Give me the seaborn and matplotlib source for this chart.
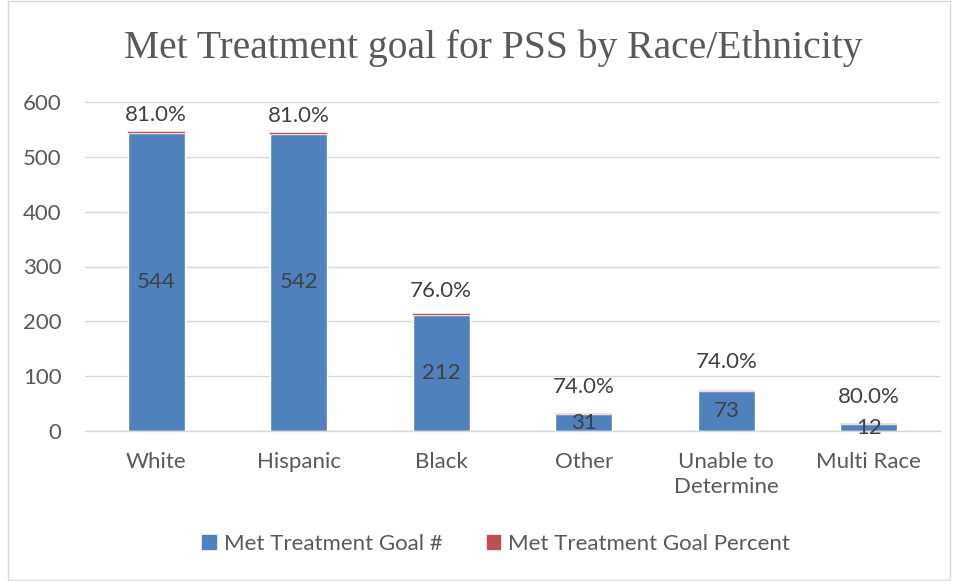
import matplotlib
matplotlib.use("Agg")
import matplotlib.pyplot as plt
from matplotlib.patches import Rectangle
import seaborn as sns
import pandas as pd

categories = ["White", "Hispanic", "Black", "Other", "Unable to\nDetermine", "Multi Race"]
met_goal_count = [544, 542, 212, 31, 73, 12]
met_goal_percent = [0.81, 0.81, 0.76, 0.74, 0.74, 0.80]

df = pd.DataFrame({
    "category": categories,
    "count": met_goal_count,
    "percent": met_goal_percent,
})

sns.set_theme(style="white")
plt.rcParams["font.family"] = ["Lato", "DejaVu Sans"]

BLUE = "#4F81BD"
RED = "#C0504D"
TEXT = "#595959"
LABEL = "#404040"
FS = 16

# gap (in pixels) between each bar top and the centre of its percent label
pct_label_gap = [17, 17, 23, 27, 29, 27]

fig = plt.figure(figsize=(9.58, 5.81), dpi=100)
ax = fig.add_axes([85 / 958, 1 - 431 / 581, 855 / 958, 329 / 581])

sns.barplot(data=df, x="category", y="count", color=BLUE, width=0.4,
            saturation=1, ax=ax)
sns.barplot(data=df, x="category", y="percent", color=RED, width=0.4,
            saturation=1, ax=ax, bottom=df["count"],
            edgecolor=RED, linewidth=0.3)

ax.set_ylim(0, 600)
ax.set_xlim(-0.5, len(categories) - 0.5)
ax.set_yticks(range(0, 601, 100))
ax.yaxis.grid(True, color="#D9D9D9", linewidth=1)
ax.set_axisbelow(True)
for side in ["top", "right", "left"]:
    ax.spines[side].set_visible(False)
ax.spines["bottom"].set_color("#D9D9D9")
ax.spines["bottom"].set_linewidth(1)
ax.set_xlabel("")
ax.set_ylabel("")
ax.tick_params(axis="y", length=0, pad=17, labelsize=FS, labelcolor=TEXT)
ax.tick_params(axis="x", length=0, pad=15, labelsize=FS, labelcolor=TEXT)
for lbl in ax.get_xticklabels():
    lbl.set_linespacing(1.3)

for i, (c, p) in enumerate(zip(met_goal_count, met_goal_percent)):
    ax.text(i, c / 2, f"{c}", ha="center", va="center", fontsize=FS, color=LABEL)
    ax.annotate(f"{p * 100:.1f}%", xy=(i, c + p), xytext=(0, pct_label_gap[i] * 0.72),
                textcoords="offset points", ha="center", va="center",
                fontsize=FS, color=LABEL)

handles = [Rectangle((0, 0), 1, 1, color=BLUE), Rectangle((0, 0), 1, 1, color=RED)]
fig.legend(handles, ["Met Treatment Goal #", "Met Treatment Goal Percent"],
           loc="center", bbox_to_anchor=(496 / 958, 1 - 544 / 581), ncol=2, frameon=False,
           fontsize=FS, labelcolor=TEXT, handlelength=0.6, handleheight=0.6,
           handletextpad=0.35, columnspacing=2.0)

fig.text(493 / 958, 1 - 48 / 581, "Met Treatment goal for PSS by Race/Ethnicity",
         ha="center", va="center", fontsize=28.5, color=TEXT,
         family=["Liberation Serif", "DejaVu Serif"])

fig.patches.append(Rectangle((8 / 958, 0.002), 1 - 16 / 958, 0.996,
                             transform=fig.transFigure, fill=False,
                             edgecolor="#D9D9D9", linewidth=1))

fig.savefig("out.png", dpi=100)
